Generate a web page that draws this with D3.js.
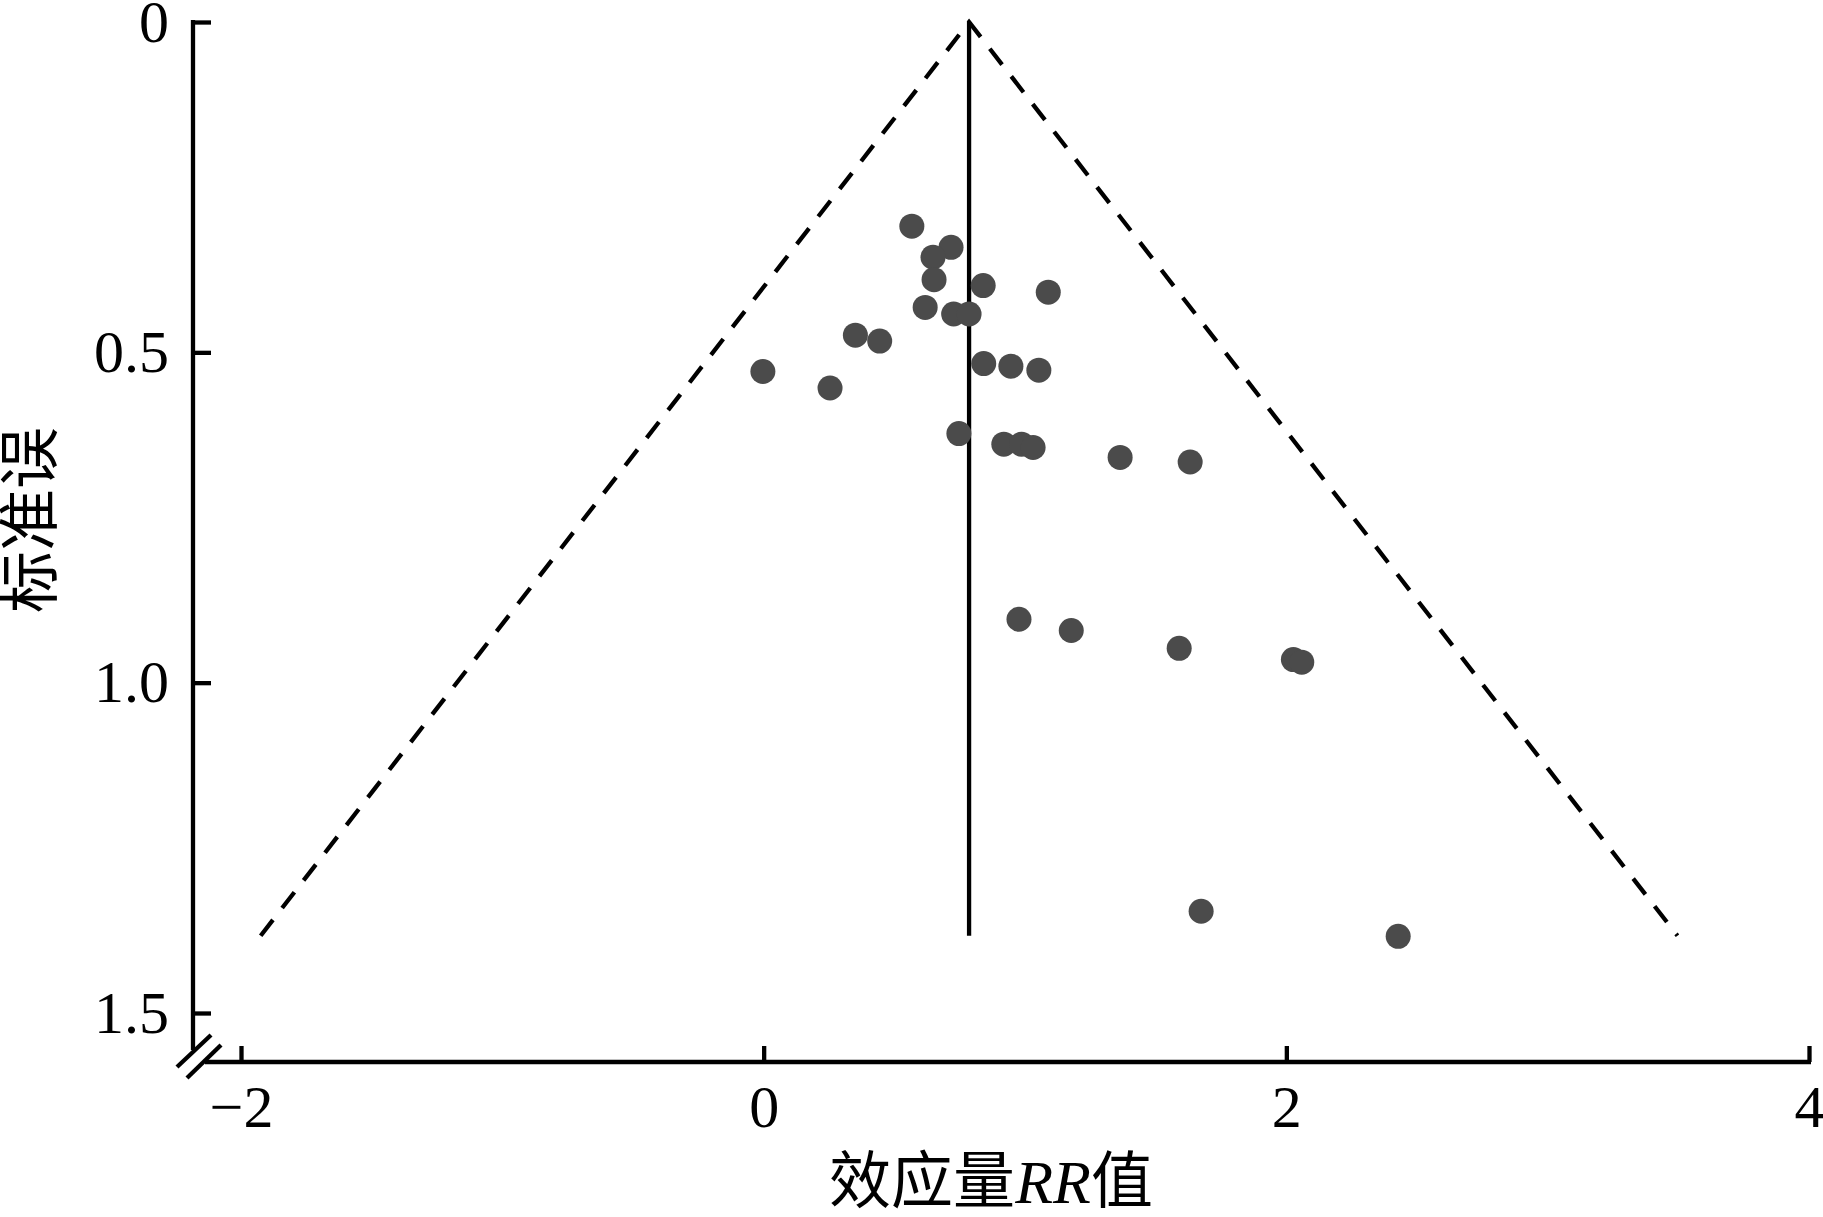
<!DOCTYPE html>
<html>
<head>
<meta charset="utf-8">
<script src="https://cdn.jsdelivr.net/npm/d3@7"></script>
<style>
  html, body { margin: 0; padding: 0; background: #fff; }
  svg { display: block; }
</style>
</head>
<body>
<svg id="chart" width="1823" height="1217"></svg>
<script>
// ---- data ----
const effectRR = [0.567, 0.717, 0.648, 0.652, 0.840, 1.089, 0.618, 0.727, 0.786, 0.351,
                  0.444, -0.003, 0.842, 0.946, 1.053, 0.254, 0.747, 0.919, 0.987, 1.031,
                  1.364, 1.632, 0.977, 1.177, 1.590, 2.027, 2.059, 1.674, 2.428];
const stdErr   = [0.309, 0.341, 0.356, 0.390, 0.399, 0.409, 0.432, 0.442, 0.442, 0.474,
                  0.483, 0.529, 0.517, 0.521, 0.527, 0.554, 0.623, 0.639, 0.639, 0.644,
                  0.659, 0.666, 0.904, 0.921, 0.948, 0.965, 0.969, 1.346, 1.384];
const pooledEffect = 0.786;
const funnelMaxSE = 1.383;
const xTicks = [-2, 0, 2, 4];
const xTickLabels = ["−2", "0", "2", "4"];
const yTicks = [0, 0.5, 1.0, 1.5];
const yTickLabels = ["0", "0.5", "1.0", "1.5"];
const xTitle = ["效应量", "RR", "值"];
const yTitle = "标准误";

// ---- layout ----
const svg = d3.select("#chart");
const x = d3.scaleLinear().domain([-2, 4]).range([241, 1809]);
const y = d3.scaleLinear().domain([0, 1.5]).range([22, 1013]);
const axisX0 = 193;      // y-axis line position
const axisY0 = 1062;     // x-axis line position
const serif = "'Liberation Serif', 'Times New Roman', serif";
const cjk = "'Noto Sans CJK SC', sans-serif";
const sw = 4.3;

// ---- funnel ----
const lo = pooledEffect - 1.96 * funnelMaxSE;
const hi = pooledEffect + 1.96 * funnelMaxSE;
const line = d3.line().x(d => x(d[0])).y(d => y(d[1]));
svg.append("path")
  .attr("d", line([[lo, funnelMaxSE], [pooledEffect, 0], [hi, funnelMaxSE]]))
  .attr("fill", "none").attr("stroke", "#000").attr("stroke-width", sw)
  .attr("stroke-dasharray", "20,15");
svg.append("path")
  .attr("d", line([[pooledEffect, 0], [pooledEffect, funnelMaxSE]]))
  .attr("fill", "none").attr("stroke", "#000").attr("stroke-width", sw);

// ---- points ----
svg.append("g").selectAll("circle")
  .data(effectRR.map((v, i) => [v, stdErr[i]]))
  .join("circle")
  .attr("cx", d => x(d[0])).attr("cy", d => y(d[1]))
  .attr("r", 12.5).attr("fill", "#4b4b4b");

// ---- axes ----
const gx = svg.append("g").attr("transform", `translate(0,${axisY0})`)
  .call(d3.axisBottom(x).tickValues(xTicks).tickSize(-16).tickSizeOuter(0).tickPadding(22)
    .tickFormat((d, i) => xTickLabels[i]));
gx.select(".domain").remove();
gx.selectAll(".tick line").attr("stroke", "#000").attr("stroke-width", sw);
gx.selectAll(".tick text").attr("font-family", serif).attr("font-size", 60).attr("fill", "#000");

const gy = svg.append("g").attr("transform", `translate(${axisX0},0)`)
  .call(d3.axisLeft(y).tickValues(yTicks).tickSize(-18).tickSizeOuter(0).tickPadding(24)
    .tickFormat((d, i) => yTickLabels[i]));
gy.select(".domain").remove();
gy.selectAll(".tick line").attr("stroke", "#000").attr("stroke-width", sw);
gy.selectAll(".tick text").attr("font-family", serif).attr("font-size", 60).attr("fill", "#000");

// axis lines with break
svg.append("line").attr("x1", axisX0).attr("x2", axisX0).attr("y1", y(0) - 2).attr("y2", axisY0 - 12)
  .attr("stroke", "#000").attr("stroke-width", sw);
svg.append("line").attr("x1", axisX0 + 12).attr("x2", x(4) + 2).attr("y1", axisY0).attr("y2", axisY0)
  .attr("stroke", "#000").attr("stroke-width", sw);
[0, 10].forEach(o => {
  svg.append("line")
    .attr("x1", axisX0 - 16 + o).attr("y1", axisY0 + 5 + o * 1.1)
    .attr("x2", axisX0 + 18 + o).attr("y2", axisY0 - 27 + o)
    .attr("stroke", "#000").attr("stroke-width", sw);
});

// ---- titles ----
const xt = svg.append("text").attr("x", 991).attr("y", 1203)
  .attr("text-anchor", "middle").attr("font-size", 62).attr("fill", "#000");
xt.append("tspan").attr("font-family", cjk).text(xTitle[0]);
xt.append("tspan").attr("font-family", serif).attr("font-style", "italic").text(xTitle[1]);
xt.append("tspan").attr("font-family", cjk).text(xTitle[2]);

svg.append("text").attr("transform", "translate(52,520) rotate(-90)")
  .attr("text-anchor", "middle").attr("font-family", cjk).attr("font-size", 62)
  .attr("fill", "#000").text(yTitle);
</script>
</body>
</html>
